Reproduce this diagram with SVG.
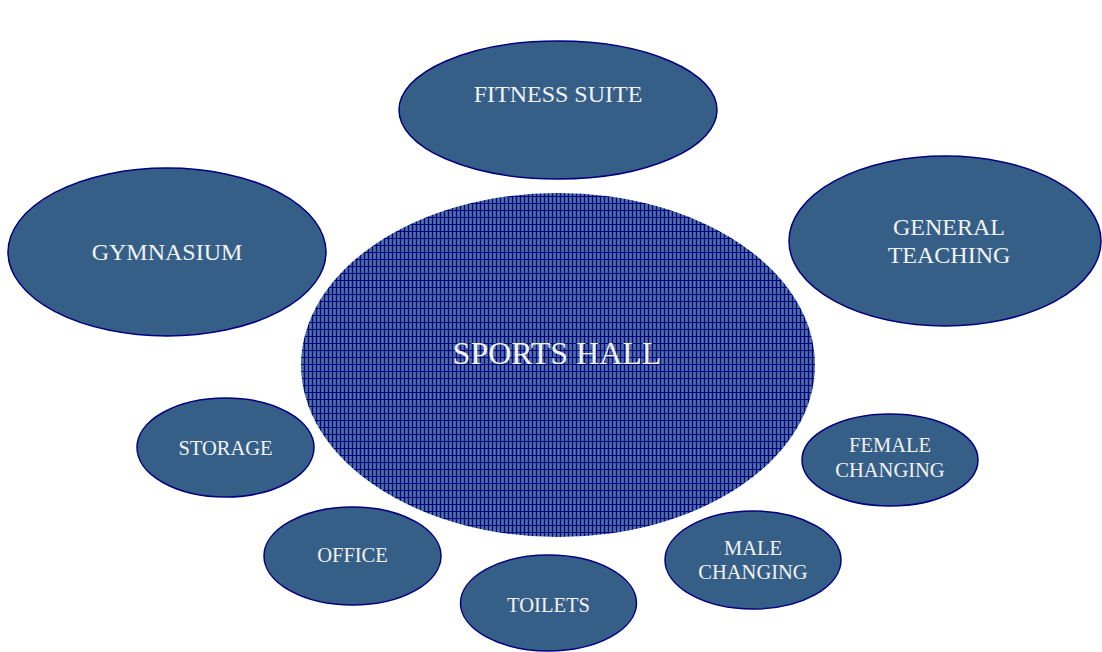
<svg xmlns="http://www.w3.org/2000/svg" width="1102" height="652" viewBox="0 0 1102 652">
  <defs>
    <!-- fine cross-hatch used for the central hall -->
    <pattern id="hatch" patternUnits="userSpaceOnUse" width="4" height="7">
      <rect x="0" y="0" width="4" height="7" fill="#3b5f98"/>
      <rect x="2" y="0" width="1" height="7" fill="#5473ad"/>
      <rect x="0" y="0" width="1" height="7" fill="#000080"/>
      <rect x="0" y="0" width="4" height="1" fill="#000080"/>
    </pattern>
    <style>
      .room { fill: #365f88; stroke: #000080; stroke-width: 1.5; }
      .hall { fill: url(#hatch); stroke: none; }
      text { font-family: "Liberation Serif", "Times New Roman", serif; fill: #f2f2f2; text-anchor: middle; }
      .big { font-size: 24px; }
      .small { font-size: 20.5px; }
      .main { font-size: 32px; }
    </style>
  </defs>

  <rect width="1102" height="652" fill="#ffffff"/>

  <g id="connectors"></g>

  <g id="fitness-suite">
    <ellipse class="room" cx="558" cy="110" rx="159" ry="69"/>
    <text class="big" x="558" y="102">FITNESS SUITE</text>
  </g>

  <g id="gymnasium">
    <ellipse class="room" cx="167" cy="252" rx="159" ry="84"/>
    <text class="big" x="167" y="260">GYMNASIUM</text>
  </g>

  <g id="general-teaching">
    <ellipse class="room" cx="945" cy="241" rx="156" ry="85"/>
    <text class="big" x="949" y="235">GENERAL</text>
    <text class="big" x="949" y="263">TEACHING</text>
  </g>

  <g id="sports-hall">
    <ellipse class="hall" cx="558" cy="365" rx="257" ry="172"/>
    <text class="main" x="557" y="364">SPORTS HALL</text>
  </g>

  <g id="storage">
    <ellipse class="room" cx="225.5" cy="447.5" rx="88.5" ry="49.5"/>
    <text class="small" x="225.5" y="455">STORAGE</text>
  </g>

  <g id="female-changing">
    <ellipse class="room" cx="890" cy="460" rx="88" ry="46"/>
    <text class="small" x="890" y="452">FEMALE</text>
    <text class="small" x="890" y="477">CHANGING</text>
  </g>

  <g id="male-changing">
    <ellipse class="room" cx="753" cy="560" rx="88" ry="49"/>
    <text class="small" x="753" y="555">MALE</text>
    <text class="small" x="753" y="579">CHANGING</text>
  </g>

  <g id="office">
    <ellipse class="room" cx="352.5" cy="556" rx="88.5" ry="49"/>
    <text class="small" x="352.5" y="562">OFFICE</text>
  </g>

  <g id="toilets">
    <ellipse class="room" cx="548.5" cy="603" rx="88" ry="48"/>
    <text class="small" x="548.5" y="612">TOILETS</text>
  </g>
</svg>
